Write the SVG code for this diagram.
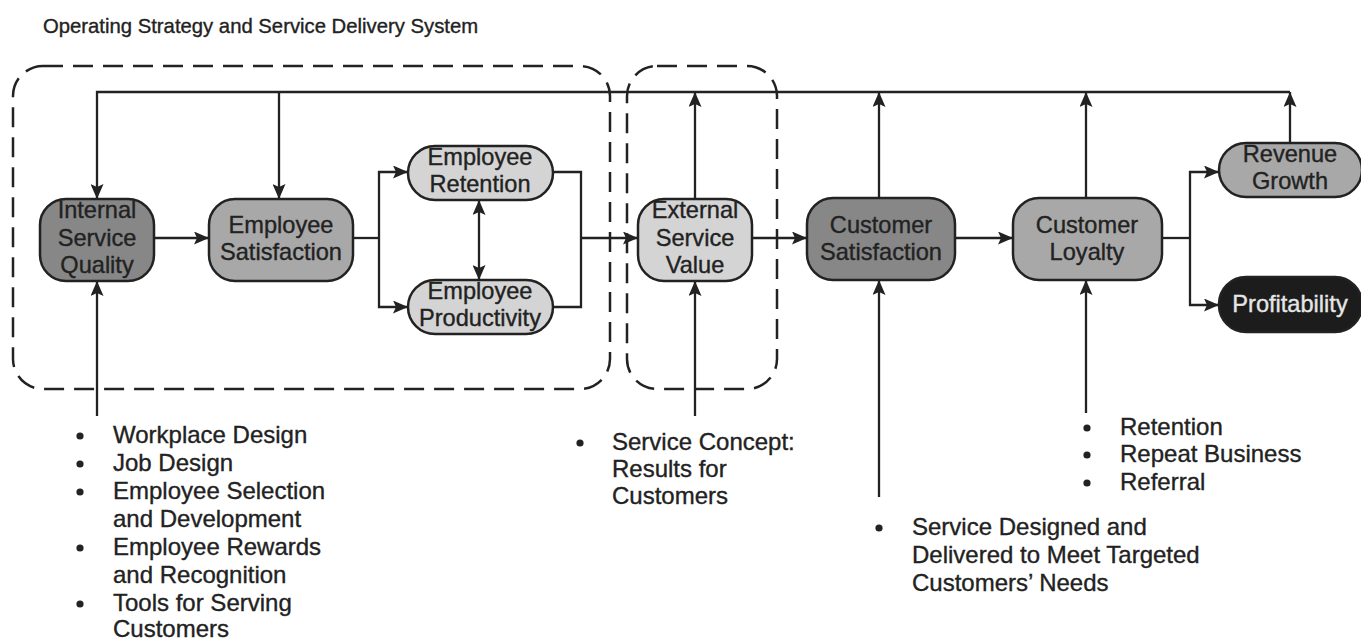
<svg xmlns="http://www.w3.org/2000/svg" width="1361" height="640" viewBox="0 0 1361 640">
  <style>
    text { font-family: "Liberation Sans", Arial, sans-serif; fill: #222; stroke: #222; stroke-width: 0.35; }
    .title { font-size: 20.3px; }
    .lbl { font-size: 23.6px; text-anchor: middle; }
    .lst { font-size: 24px; }
    .inv { fill: #e6e6e6; stroke: #e6e6e6; }
    .node { stroke: #222; stroke-width: 2.5; }
    .dark { fill: #878787; }
    .mid { fill: #a8a8a8; }
    .light { fill: #d4d4d4; }
    .black { fill: #1c1c1c; }
    .frame { fill: none; stroke: #222; stroke-width: 2.5; stroke-dasharray: 20 10; }
    .conn path { fill: none; stroke: #222; stroke-width: 2.3; }
    .bul { fill: #222; }
  </style>
  <defs>
    <marker id="arr" viewBox="0 0 15 13" refX="15" refY="6.5" markerWidth="15" markerHeight="13" markerUnits="userSpaceOnUse" orient="auto-start-reverse">
      <path d="M0,0 L15,6.5 L0,13 L3,6.5 Z" fill="#222"/>
    </marker>
  </defs>

  <rect width="1361" height="640" fill="#fff"/>

  <text class="title" x="43" y="33">Operating Strategy and Service Delivery System</text>

  <!-- dashed grouping frames -->
  <g id="frames">
    <rect class="frame" x="13" y="66" width="597" height="323" rx="30"/>
    <rect class="frame" x="627" y="66" width="150" height="323" rx="30"/>
  </g>

  <!-- connectors -->
  <g id="connectors" class="conn">
    <path d="M1290,92 H97 V199" marker-end="url(#arr)"/>
    <path d="M279,92 V199" marker-end="url(#arr)"/>
    <path d="M695,199 V92" marker-end="url(#arr)"/>
    <path d="M879,198 V92" marker-end="url(#arr)"/>
    <path d="M1086,198 V92" marker-end="url(#arr)"/>
    <path d="M1290,143 V92" marker-end="url(#arr)"/>

    <path d="M154,238 H209" marker-end="url(#arr)"/>
    <path d="M353,238 H379"/>
    <path d="M379,238 V172 H408" marker-end="url(#arr)"/>
    <path d="M379,238 V307 H408" marker-end="url(#arr)"/>
    <path d="M479,200 V280" marker-start="url(#arr)" marker-end="url(#arr)"/>
    <path d="M553,172 H581 V307 H553"/>
    <path d="M581,238 H638" marker-end="url(#arr)"/>
    <path d="M752,238 H807" marker-end="url(#arr)"/>
    <path d="M955,238 H1013" marker-end="url(#arr)"/>
    <path d="M1162,238 H1190"/>
    <path d="M1190,238 V172 H1219" marker-end="url(#arr)"/>
    <path d="M1190,238 V305 H1219" marker-end="url(#arr)"/>

    <path d="M97,416 V281" marker-end="url(#arr)"/>
    <path d="M695,416 V281" marker-end="url(#arr)"/>
    <path d="M879,497 V280" marker-end="url(#arr)"/>
    <path d="M1086,413 V280" marker-end="url(#arr)"/>
  </g>

  <!-- nodes -->
  <g id="internal-service-quality">
    <rect class="node dark" x="40" y="199" width="114" height="82" rx="26"/>
    <text class="lbl" x="97" y="218">Internal</text>
    <text class="lbl" x="97" y="246">Service</text>
    <text class="lbl" x="97" y="273">Quality</text>
  </g>
  <g id="employee-satisfaction">
    <rect class="node mid" x="209" y="199" width="144" height="82" rx="26"/>
    <text class="lbl" x="281" y="233">Employee</text>
    <text class="lbl" x="281" y="260">Satisfaction</text>
  </g>
  <g id="employee-retention">
    <rect class="node light" x="408" y="146" width="145" height="54" rx="27"/>
    <text class="lbl" x="480" y="165">Employee</text>
    <text class="lbl" x="480" y="192">Retention</text>
  </g>
  <g id="employee-productivity">
    <rect class="node light" x="408" y="280" width="145" height="54" rx="27"/>
    <text class="lbl" x="480" y="299">Employee</text>
    <text class="lbl" x="480" y="326">Productivity</text>
  </g>
  <g id="external-service-value">
    <rect class="node light" x="638" y="199" width="114" height="82" rx="26"/>
    <text class="lbl" x="695" y="218">External</text>
    <text class="lbl" x="695" y="246">Service</text>
    <text class="lbl" x="695" y="273">Value</text>
  </g>
  <g id="customer-satisfaction">
    <rect class="node dark" x="807" y="198" width="148" height="82" rx="26"/>
    <text class="lbl" x="881" y="233">Customer</text>
    <text class="lbl" x="881" y="260">Satisfaction</text>
  </g>
  <g id="customer-loyalty">
    <rect class="node mid" x="1013" y="198" width="149" height="82" rx="26"/>
    <text class="lbl" x="1087" y="233">Customer</text>
    <text class="lbl" x="1087" y="260">Loyalty</text>
  </g>
  <g id="revenue-growth">
    <rect class="node mid" x="1219" y="143" width="143" height="54" rx="27"/>
    <text class="lbl" x="1290" y="162">Revenue</text>
    <text class="lbl" x="1290" y="189">Growth</text>
  </g>
  <g id="profitability">
    <rect class="node black" x="1219" y="277" width="143" height="55" rx="27"/>
    <text class="lbl inv" x="1290" y="312">Profitability</text>
  </g>

  <!-- driver lists -->
  <g id="list-internal">
    <circle class="bul" cx="80" cy="436" r="3.6"/>
    <circle class="bul" cx="80" cy="464" r="3.6"/>
    <circle class="bul" cx="80" cy="492" r="3.6"/>
    <circle class="bul" cx="80" cy="548" r="3.6"/>
    <circle class="bul" cx="80" cy="604" r="3.6"/>
    <text class="lst" x="113" y="443">Workplace Design</text>
    <text class="lst" x="113" y="471">Job Design</text>
    <text class="lst" x="113" y="499">Employee Selection</text>
    <text class="lst" x="113" y="527">and Development</text>
    <text class="lst" x="113" y="555">Employee Rewards</text>
    <text class="lst" x="113" y="583">and Recognition</text>
    <text class="lst" x="113" y="611">Tools for Serving</text>
    <text class="lst" x="113" y="637">Customers</text>
  </g>
  <g id="list-external">
    <circle class="bul" cx="580" cy="443" r="3.6"/>
    <text class="lst" x="612" y="450">Service Concept:</text>
    <text class="lst" x="612" y="477">Results for</text>
    <text class="lst" x="612" y="504">Customers</text>
  </g>
  <g id="list-satisfaction">
    <circle class="bul" cx="879" cy="528" r="3.6"/>
    <text class="lst" x="912" y="535">Service Designed and</text>
    <text class="lst" x="912" y="563">Delivered to Meet Targeted</text>
    <text class="lst" x="912" y="591">Customers’ Needs</text>
  </g>
  <g id="list-loyalty">
    <circle class="bul" cx="1087" cy="428" r="3.6"/>
    <circle class="bul" cx="1087" cy="455" r="3.6"/>
    <circle class="bul" cx="1087" cy="483" r="3.6"/>
    <text class="lst" x="1120" y="435">Retention</text>
    <text class="lst" x="1120" y="462">Repeat Business</text>
    <text class="lst" x="1120" y="490">Referral</text>
  </g>
</svg>
